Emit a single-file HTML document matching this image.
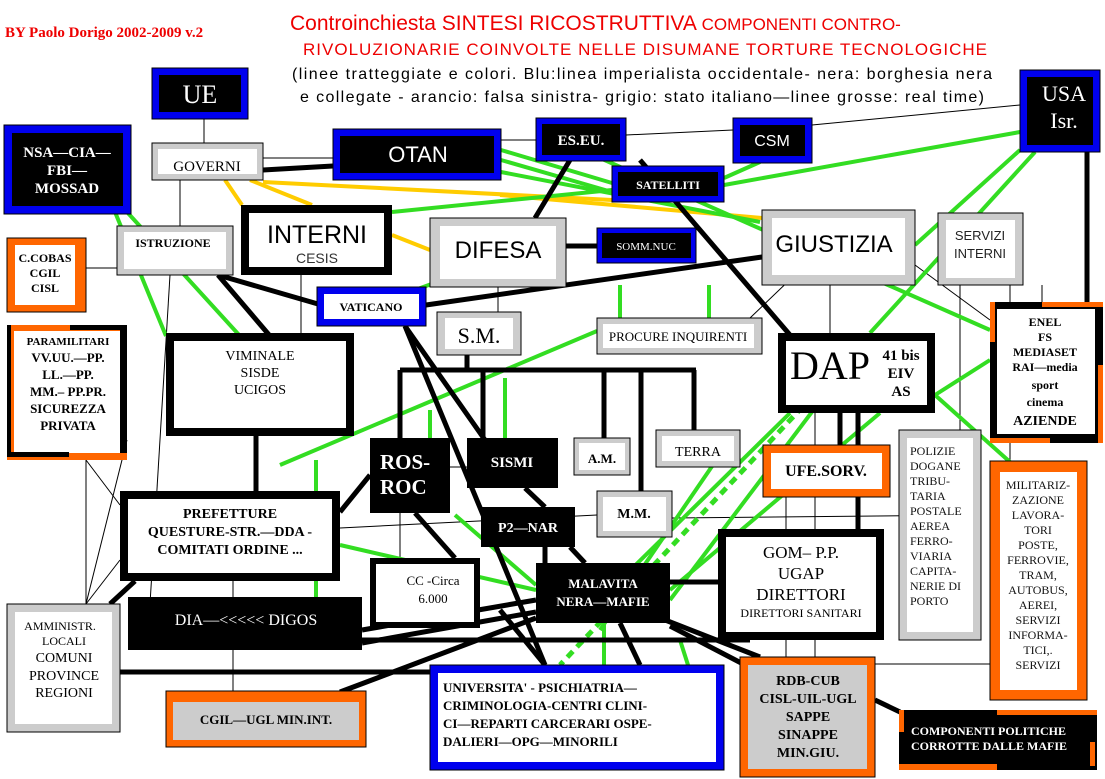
<!DOCTYPE html>
<html><head><meta charset="utf-8"><style>
html,body{margin:0;padding:0;background:#fff;width:1105px;height:779px;overflow:hidden}
svg{display:block}
.s{font-family:"Liberation Serif",serif}
.a{font-family:"Liberation Sans",sans-serif}
</style></head><body>
<svg width="1105" height="779" viewBox="0 0 1105 779" xmlns="http://www.w3.org/2000/svg">
<!-- title -->
<text x="5" y="37" class="s" font-size="15" font-weight="bold" fill="#e00">BY Paolo Dorigo 2002-2009 v.2</text>
<text x="290" y="30" class="a" font-size="21" fill="#e00">Controinchiesta SINTESI RICOSTRUTTIVA <tspan font-size="17">COMPONENTI CONTRO-</tspan></text>
<text x="303" y="55" class="a" font-size="17" fill="#e00" textLength="684">RIVOLUZIONARIE COINVOLTE NELLE DISUMANE TORTURE TECNOLOGICHE</text>
<text x="292" y="79" class="a" font-size="16" fill="#000" textLength="700">(linee tratteggiate e colori. Blu:linea imperialista occidentale- nera: borghesia nera</text>
<text x="300" y="102" class="a" font-size="16" fill="#000" textLength="684">e collegate - arancio: falsa sinistra- grigio: stato italiano—linee grosse: real time)</text>

<!-- thin lines -->
<g stroke="#000" stroke-width="1" fill="none">
<line x1="204" y1="119" x2="204" y2="143"/>
<line x1="180" y1="180" x2="180" y2="226"/>
<line x1="263" y1="158" x2="333" y2="158"/>
<line x1="501" y1="140" x2="536" y2="140"/>
<line x1="626" y1="135" x2="733" y2="130"/>
<line x1="812" y1="125" x2="1020" y2="105"/>
<line x1="86" y1="268" x2="117" y2="268"/>
<line x1="301" y1="275" x2="301" y2="333"/>
<line x1="498" y1="287" x2="498" y2="312"/>
<line x1="170" y1="275" x2="150" y2="604"/>
<line x1="86" y1="460" x2="86" y2="604"/>
<line x1="86" y1="460" x2="120" y2="505"/>
<line x1="127" y1="440" x2="86" y2="604"/>
<line x1="120" y1="560" x2="86" y2="604"/>
<line x1="233" y1="581" x2="233" y2="691"/>
<line x1="340" y1="528" x2="597" y2="515"/>
<line x1="672" y1="518" x2="980" y2="515"/>
<line x1="400" y1="513" x2="400" y2="558"/>
<line x1="450" y1="467" x2="467" y2="467"/>
<line x1="786" y1="497" x2="786" y2="529"/>
<line x1="815" y1="497" x2="815" y2="529"/>
<line x1="786" y1="640" x2="786" y2="657"/>
<line x1="815" y1="640" x2="815" y2="657"/>
<line x1="875" y1="664" x2="990" y2="664"/>
<line x1="830" y1="280" x2="830" y2="333"/>
<line x1="960" y1="285" x2="960" y2="430"/>
<line x1="1010" y1="285" x2="1010" y2="302"/>
<line x1="1042" y1="285" x2="1042" y2="302"/>
<line x1="1010" y1="443" x2="1010" y2="461"/>
<line x1="915" y1="265" x2="990" y2="320"/>
<line x1="750" y1="318" x2="800" y2="270"/>
<line x1="815" y1="413" x2="815" y2="445"/>
</g>

<!-- yellow lines -->
<g stroke="#ffcc00" stroke-width="4" fill="none">
<line x1="225" y1="180" x2="242" y2="205"/>
<line x1="250" y1="180" x2="312" y2="205"/>
<line x1="263" y1="182" x2="612" y2="200"/>
<line x1="392" y1="235" x2="430" y2="250"/>
<line x1="500" y1="195" x2="762" y2="218"/>
</g>

<!-- green lines -->
<g stroke="#33dd22" stroke-width="4" fill="none">
<line x1="115" y1="212" x2="166" y2="336"/>
<line x1="127" y1="212" x2="240" y2="336"/>
<line x1="392" y1="212" x2="612" y2="190"/>
<line x1="501" y1="150" x2="612" y2="183"/>
<line x1="501" y1="160" x2="612" y2="192"/>
<line x1="501" y1="172" x2="760" y2="222"/>
<line x1="724" y1="185" x2="1020" y2="132"/>
<line x1="724" y1="178" x2="760" y2="162"/>
<line x1="600" y1="158" x2="990" y2="330"/>
<line x1="1035" y1="152" x2="870" y2="333"/>
<line x1="1020" y1="150" x2="915" y2="245"/>
<line x1="935" y1="395" x2="990" y2="360"/>
<line x1="935" y1="395" x2="1010" y2="462"/>
<line x1="280" y1="465" x2="597" y2="331"/>
<line x1="709" y1="285" x2="709" y2="318"/>
<line x1="620" y1="285" x2="620" y2="318"/>
<line x1="505" y1="378" x2="505" y2="438"/>
<line x1="430" y1="410" x2="430" y2="438"/>
<line x1="870" y1="335" x2="670" y2="600"/>
<line x1="790" y1="413" x2="600" y2="600"/>
<line x1="730" y1="440" x2="600" y2="630"/>
<line x1="340" y1="545" x2="536" y2="590"/>
<line x1="455" y1="515" x2="536" y2="585"/>
<line x1="316" y1="460" x2="316" y2="597"/>
<line x1="604" y1="623" x2="604" y2="665"/>
<line x1="680" y1="640" x2="688" y2="665"/>
<line x1="880" y1="413" x2="670" y2="590"/>
<line x1="415" y1="290" x2="470" y2="270"/>
</g>
<line x1="870" y1="335" x2="560" y2="665" stroke="#33dd22" stroke-width="5" stroke-dasharray="8,6"/>

<!-- thick black lines -->
<g stroke="#000" stroke-width="5" fill="none">
<line x1="263" y1="170" x2="333" y2="166"/>
<line x1="570" y1="160" x2="535" y2="218"/>
<line x1="566" y1="246" x2="597" y2="246"/>
<line x1="218" y1="275" x2="270" y2="336"/>
<line x1="218" y1="275" x2="318" y2="304"/>
<line x1="426" y1="305" x2="762" y2="257"/>
<line x1="405" y1="326" x2="485" y2="440"/>
<line x1="405" y1="326" x2="545" y2="665"/>
<line x1="400" y1="370" x2="696" y2="370"/>
<line x1="467" y1="355" x2="467" y2="370"/>
<line x1="400" y1="370" x2="400" y2="438"/>
<line x1="483" y1="370" x2="483" y2="438"/>
<line x1="604" y1="370" x2="604" y2="438"/>
<line x1="641" y1="370" x2="641" y2="491"/>
<line x1="694" y1="370" x2="694" y2="430"/>
<line x1="640" y1="160" x2="790" y2="335"/>
<line x1="840" y1="413" x2="840" y2="445"/>
<line x1="858" y1="413" x2="858" y2="445"/>
<line x1="858" y1="497" x2="858" y2="529"/>
<line x1="1087" y1="152" x2="1087" y2="302"/>
<line x1="370" y1="475" x2="340" y2="512"/>
<line x1="415" y1="513" x2="455" y2="558"/>
<line x1="525" y1="488" x2="545" y2="507"/>
<line x1="545" y1="547" x2="545" y2="563"/>
<line x1="570" y1="547" x2="585" y2="563"/>
<line x1="660" y1="618" x2="760" y2="657"/>
<line x1="670" y1="626" x2="745" y2="665"/>
<line x1="362" y1="643" x2="536" y2="612"/>
<line x1="120" y1="672" x2="440" y2="672"/>
<line x1="330" y1="640" x2="750" y2="640"/>
<line x1="340" y1="692" x2="536" y2="618"/>
<line x1="135" y1="581" x2="110" y2="604"/>
<line x1="256" y1="436" x2="256" y2="491"/>
<line x1="875" y1="700" x2="900" y2="712"/>
<line x1="718" y1="582" x2="670" y2="582"/>
<line x1="362" y1="630" x2="536" y2="600"/>
<line x1="620" y1="623" x2="640" y2="665"/>
<line x1="500" y1="610" x2="545" y2="665"/>
</g>

<!-- boxes -->
<g>
<rect x="152" y="68" width="96" height="51" fill="#0000ee" stroke="#000"/><rect x="159" y="75" width="82" height="37" fill="#000"/>
<text x="200" y="103" class="s" font-size="26" fill="#fff" text-anchor="middle">UE</text>
<rect x="4" y="125" width="127" height="89" fill="#0000ee" stroke="#000"/><rect x="12" y="133" width="111" height="73" fill="#000"/>
<g class="s" font-size="15" font-weight="bold" fill="#fff" text-anchor="middle"><text x="67" y="157">NSA—CIA—</text><text x="67" y="175">FBI—</text><text x="67" y="193">MOSSAD</text></g>
<rect x="152" y="143" width="111" height="37" fill="#ccc" stroke="#000"/><rect x="158" y="149" width="99" height="25" fill="#fff"/>
<text x="207" y="171" class="s" font-size="15" text-anchor="middle">GOVERNI</text>
<rect x="333" y="129" width="168" height="51" fill="#0000ee" stroke="#000"/><rect x="340" y="136" width="154" height="37" fill="#000"/>
<text x="418" y="162" class="a" font-size="22" fill="#fff" text-anchor="middle">OTAN</text>
<rect x="536" y="118" width="90" height="43" fill="#0000ee" stroke="#000"/><rect x="542" y="124" width="78" height="31" fill="#000"/>
<text x="581" y="145" class="s" font-size="15" font-weight="bold" fill="#fff" text-anchor="middle">ES.EU.</text>
<rect x="733" y="118" width="79" height="45" fill="#0000ee" stroke="#000"/><rect x="740" y="125" width="65" height="31" fill="#000"/>
<text x="772" y="146" class="a" font-size="16" fill="#fff" text-anchor="middle">CSM</text>
<rect x="612" y="166" width="112" height="36" fill="#0000ee" stroke="#000"/><rect x="618" y="172" width="100" height="24" fill="#000"/>
<text x="668" y="189" class="s" font-size="12" font-weight="bold" fill="#fff" text-anchor="middle">SATELLITI</text>
<rect x="1020" y="70" width="80" height="82" fill="#0000ee" stroke="#000"/><rect x="1027" y="77" width="66" height="68" fill="#000"/>
<g class="s" font-size="22" fill="#fff" text-anchor="middle"><text x="1064" y="101">USA</text><text x="1064" y="128">Isr.</text></g>
<rect x="117" y="226" width="116" height="49" fill="#ccc" stroke="#000"/><rect x="124" y="232" width="102" height="37" fill="#fff"/>
<text x="173" y="247" class="s" font-size="12" font-weight="bold" text-anchor="middle">ISTRUZIONE</text>
<rect x="241" y="205" width="151" height="70" fill="#000"/><rect x="249" y="213" width="135" height="54" fill="#fff"/>
<text x="317" y="243" class="a" font-size="25" text-anchor="middle">INTERNI</text>
<text x="317" y="263" class="a" font-size="14" fill="#333" text-anchor="middle">CESIS</text>
<rect x="430" y="218" width="136" height="69" fill="#ccc" stroke="#000"/><rect x="440" y="226" width="116" height="53" fill="#fff"/>
<text x="498" y="258" class="a" font-size="24" text-anchor="middle">DIFESA</text>
<rect x="597" y="228" width="99" height="35" fill="#0000ee" stroke="#000"/><rect x="602" y="233" width="89" height="25" fill="#000"/>
<text x="646" y="250" class="s" font-size="11" fill="#fff" text-anchor="middle">SOMM.NUC</text>
<rect x="762" y="210" width="153" height="75" fill="#ccc" stroke="#000"/><rect x="772" y="218" width="133" height="57" fill="#fff"/>
<text x="834" y="252" class="a" font-size="24" text-anchor="middle">GIUSTIZIA</text>
<rect x="938" y="213" width="85" height="72" fill="#ccc" stroke="#000"/><rect x="946" y="220" width="69" height="58" fill="#fff"/>
<g class="a" font-size="13" text-anchor="middle" fill="#222"><text x="980" y="240">SERVIZI</text><text x="980" y="258">INTERNI</text></g>
<rect x="7" y="238" width="79" height="74" fill="#ff6600" stroke="#000"/><rect x="15" y="245" width="60" height="60" fill="#fff"/>
<g class="s" font-size="12" font-weight="bold" text-anchor="middle"><text x="45" y="262">C.COBAS</text><text x="45" y="277">CGIL</text><text x="45" y="292">CISL</text></g>
<rect x="317" y="287" width="109" height="39" fill="#0000ee" stroke="#000"/><rect x="324" y="294" width="95" height="25" fill="#fff"/>
<text x="371" y="311" class="s" font-size="12" font-weight="bold" text-anchor="middle">VATICANO</text>
<rect x="437" y="312" width="84" height="43" fill="#ccc" stroke="#000"/><rect x="445" y="318" width="68" height="31" fill="#fff"/>
<text x="479" y="343" class="s" font-size="22" text-anchor="middle">S.M.</text>
<rect x="597" y="318" width="165" height="36" fill="#ccc" stroke="#000"/><rect x="603" y="324" width="151" height="24" fill="#fff"/>
<text x="678" y="341" class="s" font-size="13" text-anchor="middle">PROCURE INQUIRENTI</text>
<rect x="778" y="333" width="157" height="80" fill="#000"/><rect x="786" y="341" width="141" height="64" fill="#fff"/>
<text x="790" y="379" class="s" font-size="40">DAP</text>
<g class="s" font-size="15" font-weight="bold" text-anchor="middle"><text x="901" y="360">41 bis</text><text x="901" y="378">EIV</text><text x="901" y="396">AS</text></g>
<rect x="990" y="302" width="113" height="141" fill="#000"/><rect x="997" y="309" width="98" height="125" fill="#fff"/>
<rect x="1042" y="302" width="61" height="5" fill="#ff6600"/><rect x="990" y="302" width="5" height="40" fill="#ff6600"/><rect x="1098" y="365" width="5" height="78" fill="#ff6600"/><rect x="990" y="438" width="60" height="5" fill="#ff6600"/>
<g class="s" font-size="12" font-weight="bold" text-anchor="middle"><text x="1045" y="326">ENEL</text><text x="1045" y="341">FS</text><text x="1045" y="356">MEDIASET</text><text x="1045" y="371">RAI—media</text><text x="1045" y="389">sport</text><text x="1045" y="406">cinema</text><text x="1045" y="425" font-size="14">AZIENDE</text></g>
<rect x="7" y="325" width="120" height="135" fill="#ff6600"/><rect x="14" y="331" width="108" height="122" fill="#fff"/>
<rect x="70" y="325" width="55" height="5" fill="#000"/><rect x="120" y="325" width="7" height="128" fill="#000"/><rect x="7" y="452" width="62" height="5" fill="#000"/><rect x="7" y="325" width="4" height="130" fill="#000"/>
<g class="s" font-size="13" font-weight="bold" text-anchor="middle"><text x="68" y="345" font-size="11">PARAMILITARI</text><text x="68" y="362">VV.UU.—PP.</text><text x="68" y="379">LL.—PP.</text><text x="68" y="396">MM.– PP.PR.</text><text x="68" y="413">SICUREZZA</text><text x="68" y="430">PRIVATA</text></g>
<rect x="166" y="333" width="188" height="103" fill="#000"/><rect x="174" y="341" width="172" height="87" fill="#fff"/>
<g class="s" font-size="14" text-anchor="middle"><text x="260" y="360">VIMINALE</text><text x="260" y="377">SISDE</text><text x="260" y="394">UCIGOS</text></g>
<rect x="370" y="438" width="80" height="75" fill="#000"/>
<g class="s" font-size="21" font-weight="bold" fill="#fff"><text x="380" y="469">ROS-</text><text x="380" y="494">ROC</text></g>
<rect x="467" y="438" width="91" height="50" fill="#000"/>
<text x="512" y="467" class="s" font-size="15" font-weight="bold" fill="#fff" text-anchor="middle">SISMI</text>
<rect x="574" y="438" width="56" height="37" fill="#ccc" stroke="#000"/><rect x="579" y="443" width="46" height="27" fill="#fff"/>
<text x="602" y="463" class="s" font-size="13" font-weight="bold" text-anchor="middle">A.M.</text>
<rect x="656" y="430" width="84" height="37" fill="#ccc" stroke="#000"/><rect x="662" y="436" width="72" height="25" fill="#fff"/>
<text x="698" y="456" class="s" font-size="14" text-anchor="middle">TERRA</text>
<rect x="763" y="445" width="127" height="52" fill="#ff6600" stroke="#000"/><rect x="771" y="453" width="111" height="36" fill="#fff"/>
<text x="826" y="476" class="s" font-size="16" font-weight="bold" text-anchor="middle">UFE.SORV.</text>
<rect x="899" y="430" width="82" height="210" fill="#ccc" stroke="#000"/><rect x="907" y="438" width="66" height="194" fill="#fff"/>
<g class="s" font-size="12" fill="#111"><text x="910" y="455">POLIZIE</text><text x="910" y="470">DOGANE</text><text x="910" y="485">TRIBU-</text><text x="910" y="500">TARIA</text><text x="910" y="515">POSTALE</text><text x="910" y="530">AEREA</text><text x="910" y="545">FERRO-</text><text x="910" y="560">VIARIA</text><text x="910" y="575">CAPITA-</text><text x="910" y="590">NERIE DI</text><text x="910" y="605">PORTO</text></g>
<rect x="990" y="461" width="97" height="239" fill="#ff6600" stroke="#000"/><rect x="1000" y="472" width="77" height="218" fill="#fff"/>
<g class="s" font-size="12" text-anchor="middle" fill="#111"><text x="1038" y="489">MILITARIZ-</text><text x="1038" y="504">ZAZIONE</text><text x="1038" y="519">LAVORA-</text><text x="1038" y="534">TORI</text><text x="1038" y="549">POSTE,</text><text x="1038" y="564">FERROVIE,</text><text x="1038" y="579">TRAM,</text><text x="1038" y="594">AUTOBUS,</text><text x="1038" y="609">AEREI,</text><text x="1038" y="624">SERVIZI</text><text x="1038" y="639">INFORMA-</text><text x="1038" y="654">TICI,.</text><text x="1038" y="669">SERVIZI</text></g>
<rect x="120" y="491" width="220" height="90" fill="#000"/><rect x="128" y="499" width="204" height="74" fill="#fff"/>
<g class="s" font-size="14" font-weight="bold" text-anchor="middle"><text x="230" y="518">PREFETTURE</text><text x="230" y="536">QUESTURE-STR.—DDA -</text><text x="230" y="554">COMITATI ORDINE ...</text></g>
<rect x="481" y="507" width="94" height="40" fill="#000"/>
<text x="528" y="532" class="s" font-size="14" font-weight="bold" fill="#fff" text-anchor="middle">P2—NAR</text>
<rect x="597" y="491" width="75" height="46" fill="#ccc" stroke="#000"/><rect x="603" y="497" width="63" height="34" fill="#fff"/>
<text x="634" y="518" class="s" font-size="14" font-weight="bold" text-anchor="middle">M.M.</text>
<rect x="718" y="529" width="166" height="111" fill="#000"/><rect x="726" y="537" width="150" height="95" fill="#fff"/>
<g class="s" text-anchor="middle"><text x="801" y="558" font-size="17">GOM– P.P.</text><text x="801" y="579" font-size="17">UGAP</text><text x="801" y="600" font-size="17">DIRETTORI</text><text x="801" y="617" font-size="12">DIRETTORI SANITARI</text></g>
<rect x="370" y="558" width="110" height="70" fill="#000"/><rect x="376" y="564" width="98" height="58" fill="#fff"/>
<g class="s" font-size="13" text-anchor="middle"><text x="433" y="585">CC -Circa</text><text x="433" y="603">6.000</text></g>
<rect x="536" y="563" width="134" height="60" fill="#000"/>
<g class="s" font-size="13" font-weight="bold" fill="#fff" text-anchor="middle"><text x="603" y="588">MALAVITA</text><text x="603" y="606">NERA—MAFIE</text></g>
<rect x="128" y="597" width="234" height="53" fill="#000"/>
<text x="246" y="625" class="s" font-size="16" fill="#fff" text-anchor="middle">DIA—&lt;&lt;&lt;&lt;&lt; DIGOS</text>
<rect x="7" y="604" width="113" height="128" fill="#ccc" stroke="#000"/><rect x="15" y="612" width="97" height="112" fill="#fff"/>
<g class="s" text-anchor="middle"><text x="60" y="630" font-size="12">AMMINISTR.</text><text x="64" y="645" font-size="12">LOCALI</text><text x="64" y="662" font-size="14">COMUNI</text><text x="64" y="680" font-size="14">PROVINCE</text><text x="64" y="697" font-size="14">REGIONI</text></g>
<rect x="166" y="691" width="200" height="56" fill="#ff6600" stroke="#000"/><rect x="173" y="702" width="186" height="38" fill="#ccc"/>
<text x="266" y="724" class="s" font-size="13" font-weight="bold" text-anchor="middle">CGIL—UGL MIN.INT.</text>
<rect x="430" y="665" width="294" height="105" fill="#0000ee" stroke="#000"/><rect x="438" y="673" width="278" height="89" fill="#fff"/>
<g class="s" font-size="13" font-weight="bold"><text x="443" y="692">UNIVERSITA' - PSICHIATRIA—</text><text x="443" y="710">CRIMINOLOGIA-CENTRI CLINI-</text><text x="443" y="728">CI—REPARTI CARCERARI OSPE-</text><text x="443" y="746">DALIERI—OPG—MINORILI</text></g>
<rect x="740" y="657" width="135" height="120" fill="#ff6600" stroke="#000"/><rect x="748" y="665" width="119" height="104" fill="#ccc"/>
<g class="s" font-size="14" font-weight="bold" text-anchor="middle"><text x="808" y="685">RDB-CUB</text><text x="808" y="703">CISL-UIL-UGL</text><text x="808" y="721">SAPPE</text><text x="808" y="739">SINAPPE</text><text x="808" y="757">MIN.GIU.</text></g>
<rect x="899" y="710" width="198" height="60" fill="#000"/>
<rect x="997" y="710" width="100" height="5" fill="#ff6600"/><rect x="899" y="710" width="5" height="22" fill="#ff6600"/><rect x="899" y="764" width="98" height="6" fill="#ff6600"/><rect x="1090" y="742" width="5" height="24" fill="#ff6600"/>
<g class="s" font-size="12" font-weight="bold" fill="#fff"><text x="911" y="735">COMPONENTI POLITICHE</text><text x="911" y="750">CORROTTE DALLE MAFIE</text></g>
</g>
</svg>
</body></html>
